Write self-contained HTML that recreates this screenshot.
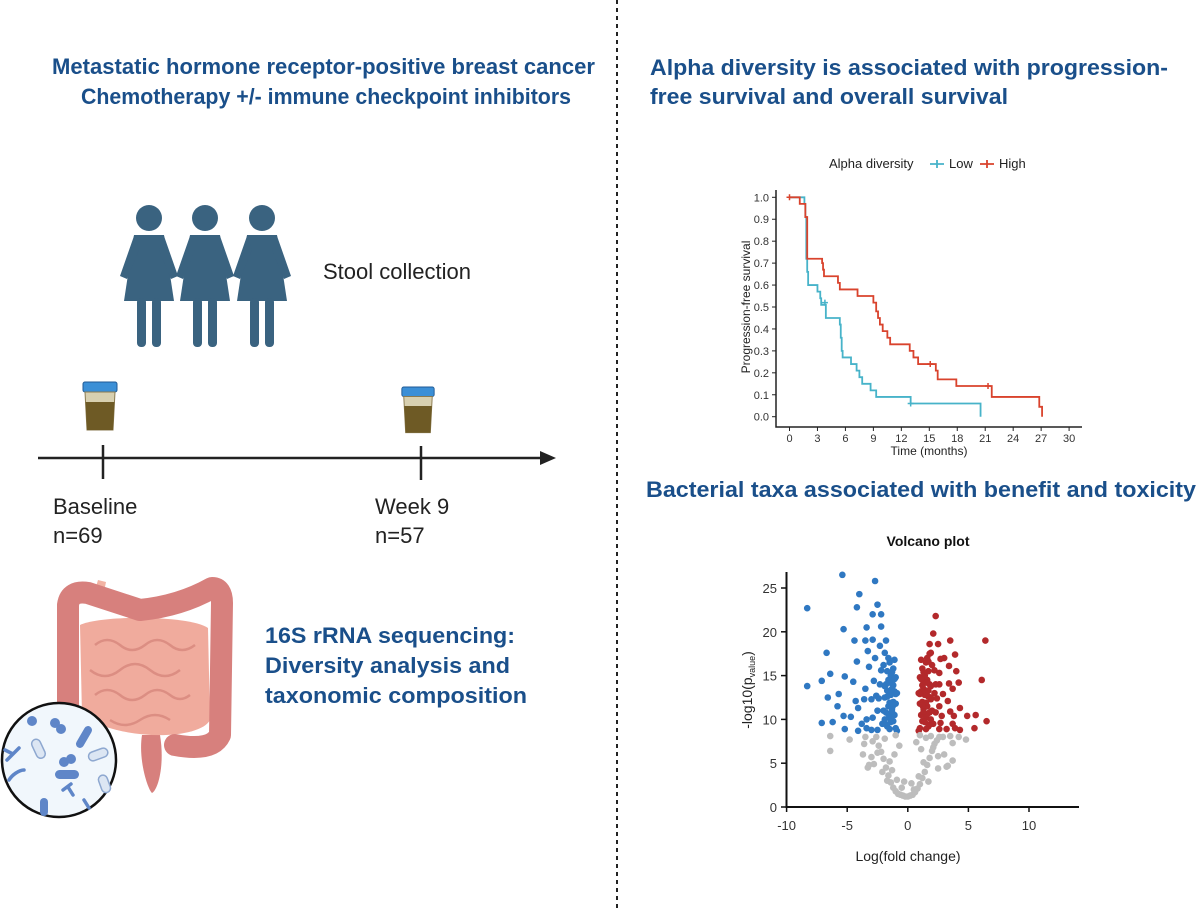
<!DOCTYPE html>
<html><head><meta charset="utf-8"><style>
body{margin:0;background:#fff;}
svg{display:block;font-family:"Liberation Sans",sans-serif;}
.t{fill:#1a4f8a;font-weight:bold;font-size:22px;}
</style></head><body>
<svg id="s" width="1200" height="909" viewBox="0 0 1200 909">
<line x1="617" y1="0" x2="617" y2="909" stroke="#222" stroke-width="2" stroke-dasharray="4,4"/>
<text class="t" x="52" y="74" textLength="543" lengthAdjust="spacingAndGlyphs">Metastatic hormone receptor-positive breast cancer</text>
<text class="t" x="81" y="104" textLength="490" lengthAdjust="spacingAndGlyphs">Chemotherapy +/- immune checkpoint inhibitors</text>
<text class="t" x="650" y="75" textLength="518" lengthAdjust="spacingAndGlyphs">Alpha diversity is associated with progression-</text>
<text class="t" x="650" y="104" textLength="358" lengthAdjust="spacingAndGlyphs">free survival and overall survival</text>
<text class="t" x="646" y="497" textLength="550" lengthAdjust="spacingAndGlyphs">Bacterial taxa associated with benefit and toxicity</text>

<g id="people" fill="#3a6380"></g>
<text x="323" y="279" font-size="22" fill="#222">Stool collection</text>

<g>
<line x1="38" y1="458" x2="545" y2="458" stroke="#222" stroke-width="2.5"/>
<polygon points="556,458 540,451 540,465" fill="#222"/>
<line x1="103" y1="445" x2="103" y2="479" stroke="#222" stroke-width="2.5"/>
<line x1="421" y1="446" x2="421" y2="480" stroke="#222" stroke-width="2.5"/>
</g>
<g id="cups"></g>
<text x="53" y="514" font-size="22" fill="#222">Baseline</text>
<text x="53" y="543" font-size="22" fill="#222">n=69</text>
<text x="375" y="514" font-size="22" fill="#222">Week 9</text>
<text x="375" y="543" font-size="22" fill="#222">n=57</text>

<g>
<path d="M92,600 L98,580 L106,582 L102,602" fill="#f2b3a3"/>
<path d="M142,735 C138,760 148,790 152,793 C158,790 165,765 160,735 Z" fill="#d7807d"/>
<path d="M80,625 C100,615 190,615 208,628 L210,720 C200,740 120,742 82,715 Z" fill="#f0ab9d"/>
<path d="M95,645 q12,-10 25,0 q12,10 25,0 q12,-10 25,0 q12,10 25,0 M90,670 q15,12 30,0 q15,-12 30,0 q15,12 30,0 M95,695 q12,-10 25,0 q12,10 25,0 q12,-10 25,0 q10,8 20,0 M110,720 q15,10 30,0 q15,-10 30,0" fill="none" stroke="#dc8e83" stroke-width="2.5"/>
<path d="M68,720 L68,605 Q70,590 88,593 L140,610 Q180,606 212,588 Q222,588 222,603 L220,735 Q212,752 175,745" fill="none" stroke="#d7807d" stroke-width="22" stroke-linecap="round" stroke-linejoin="round"/>
<circle cx="59" cy="760" r="57" fill="#f1f7fc" stroke="#111" stroke-width="2.5"/>
<g fill="#5f86c8">
<rect x="55" y="770" width="24" height="9" rx="4.5"/>
<rect x="80" y="725" width="8" height="24" rx="4" transform="rotate(30 84 737)"/>
<circle cx="55" cy="723" r="5"/><circle cx="61" cy="729" r="5"/>
<circle cx="64" cy="762" r="5"/><circle cx="71" cy="759" r="5"/>
<rect x="40" y="798" width="8" height="18" rx="4"/>
<circle cx="32" cy="721" r="5"/>
</g>
<g fill="#dce6f3" stroke="#8ea8d0" stroke-width="1.5">
<rect x="34" y="739" width="9" height="20" rx="4.5" transform="rotate(-25 38 749)"/>
<rect x="88" y="750" width="20" height="9" rx="4.5" transform="rotate(-20 98 754)"/>
<rect x="100" y="775" width="9" height="18" rx="4.5" transform="rotate(-20 104 784)"/>
</g>
<path d="M5,750 l8,4 l-6,6 M13,754 l6,-6 M63,790 l8,-6 M68,787 l5,8 M84,800 l5,8 M24,770 c-5,0 -12,5 -15,10" stroke="#5f86c8" stroke-width="3.5" fill="none" stroke-linecap="round"/>
</g>
<text class="t" x="265" y="643" textLength="250" lengthAdjust="spacingAndGlyphs">16S rRNA sequencing:</text>
<text class="t" x="265" y="673" textLength="245" lengthAdjust="spacingAndGlyphs">Diversity analysis and</text>
<text class="t" x="265" y="703" textLength="262" lengthAdjust="spacingAndGlyphs">taxonomic composition</text>

<g id="km"></g>
<g id="vol"></g>
</svg>
<script>
const NS="http://www.w3.org/2000/svg";
function mk(p,tag,a,txt){const e=document.createElementNS(NS,tag);for(const k in a)e.setAttribute(k,a[k]);if(txt!==undefined)e.textContent=txt;p.appendChild(e);return e;}
// people
const ppl=document.getElementById('people');
[149,205,262].forEach((cx,i)=>{
  const g=mk(ppl,'g',{});
  
  
  mk(g,'circle',{cx:cx,cy:218,r:13});
  mk(g,'path',{d:`M${cx-15},235 L${cx+15},235 L${cx+25},301 L${cx-25},301 Z`});
  mk(g,'rect',{x:cx-12,y:298,width:9,height:49,rx:4});
  mk(g,'rect',{x:cx+3,y:298,width:9,height:49,rx:4});
  mk(g,'path',{d:`M${cx-15},236 L${cx-29},276 L${cx-22},279 L${cx-10},250 Z M${cx+15},236 L${cx+29},276 L${cx+22},279 L${cx+10},250 Z`});
});
// cups
const cups=document.getElementById('cups');
[[100,382,1],[418,387,0.95]].forEach(([cx,top,s])=>{
  const g=mk(cups,'g',{transform:`translate(${cx},${top}) scale(${s})`});
  
  
  mk(g,'rect',{x:-17,y:0,width:34,height:10,rx:2,fill:'#3b8fd6',stroke:'#1f5a96'});
  mk(g,'path',{d:'M-15,10 L15,10 L13,48 L-13,48 Z',fill:'#d8d0b0',stroke:'#8a7a50'});
  mk(g,'path',{d:'M-14.5,20 L14.5,20 L13,48 L-13,48 Z',fill:'#6e5a25'});
});

// ===== KM chart data =====
const lowTimes=[0,1.6,1.7,1.8,1.9,2.0,3.0,3.3,3.4,3.9,5.4,5.5,5.5,5.6,5.6,5.7,6.6,7.2,7.5,7.8,8.7,9.3,13.0,20.5];
const lowSurv=[1.0,0.97,0.91,0.72,0.66,0.60,0.57,0.54,0.51,0.45,0.42,0.39,0.36,0.33,0.30,0.27,0.24,0.21,0.18,0.15,0.12,0.09,0.06,0.0];
const lowCensorT=[3.8,13.0];
const lowCensorS=[0.52,0.06];
const highTimes=[0,1.1,1.7,1.9,3.5,3.6,3.7,5.2,5.4,7.3,9.0,9.3,9.5,9.7,10.0,10.5,10.8,12.9,13.3,13.8,15.7,15.9,17.9,21.7,26.8,27.1];
const highSurv=[1.0,0.97,0.91,0.72,0.70,0.67,0.64,0.61,0.58,0.55,0.52,0.48,0.45,0.42,0.39,0.36,0.33,0.30,0.27,0.24,0.21,0.17,0.14,0.09,0.045,0.0];
const highCensorT=[0,15.1,21.3];
const highCensorS=[1.0,0.24,0.14];
const kmXTicks=[0,3,6,9,12,15,18,21,24,27,30];
const kmYTicks=[0,0.1,0.2,0.3,0.4,0.5,0.6,0.7,0.8,0.9,1.0];
const kx=t=>789.5+t*9.32, ky=s=>416.7-s*219.4;
const km=document.getElementById('km');
mk(km,'path',{d:'M776,190 L776,427 L1082,427',fill:'none',stroke:'#222','stroke-width':1.5});
kmXTicks.forEach(t=>{mk(km,'line',{x1:kx(t),x2:kx(t),y1:427,y2:431,stroke:'#222'});
  const e=mk(km,'text',{x:kx(t),y:442,'font-size':11,'text-anchor':'middle',fill:'#333'},t);
  });
kmYTicks.forEach(s=>{mk(km,'line',{x1:772,x2:776,y1:ky(s),y2:ky(s),stroke:'#222'});
  const e=mk(km,'text',{x:769,y:ky(s)+4,'font-size':11,'text-anchor':'end',fill:'#333'},s.toFixed(1));
  });
let e=mk(km,'text',{x:929,y:455,'font-size':12,'text-anchor':'middle',fill:'#222'},'Time (months)');

e=mk(km,'text',{x:750,y:307,'font-size':12,'text-anchor':'middle',fill:'#222',transform:'rotate(-90 750 307)'},'Progression-free survival');

function step(T,S){let d=`M${kx(T[0])},${ky(S[0])}`;for(let i=1;i<T.length;i++){d+=` H${kx(T[i])} V${ky(S[i])}`;}return d;}
e=mk(km,'path',{d:step(lowTimes,lowSurv),fill:'none',stroke:'#47b3c9','stroke-width':1.8});

e=mk(km,'path',{d:step(highTimes,highSurv),fill:'none',stroke:'#d9432d','stroke-width':1.8});

function cens(T,S,c){T.forEach((t,i)=>{const m=mk(km,'path',{d:`M${kx(t)-3},${ky(S[i])} h6 M${kx(t)},${ky(S[i])-3} v6`,stroke:c,'stroke-width':1.5});
  });}
cens(lowCensorT,lowCensorS,'#47b3c9');cens(highCensorT,highCensorS,'#d9432d');
const lg=mk(km,'g',{});

mk(lg,'text',{x:829,y:168,'font-size':13,fill:'#222'},'Alpha diversity');
mk(lg,'path',{d:'M930,164 h14 M937,160 v8',stroke:'#47b3c9','stroke-width':1.8});
mk(lg,'text',{x:949,y:168,'font-size':13,fill:'#222'},'Low');
mk(lg,'path',{d:'M980,164 h14 M987,160 v8',stroke:'#d9432d','stroke-width':1.8});
mk(lg,'text',{x:999,y:168,'font-size':13,fill:'#222'},'High');

// ===== Volcano data =====
const volX=[-8.3,-8.3,-5.4,-2.7,-4.0,-2.5,-4.2,-2.9,-2.2,-5.3,-3.4,-2.2,-4.4,-3.5,-2.9,-1.8,-6.7,-3.3,-4.2,-6.4,-5.2,-7.1,-4.5,-2.8,-6.6,-5.7,-3.5,-5.8,-4.3,-3.0,-4.1,-7.1,-6.2,-5.3,-4.7,-3.4,-2.9,-5.2,-4.1,-3.4,-3.0,-2.5,-3.2,-2.7,-2.3,-3.8,-2.6,-2.5,-3.6,
-1.0,-1.1,-1.2,-1.3,-1.4,-1.5,-1.6,-1.7,-1.8,-1.9,-2.0,-2.1,-1.0,-1.1,-1.2,-1.3,-1.4,-1.5,-1.6,-1.7,-1.8,-1.9,-2.0,-1.0,-1.2,-1.4,-1.6,-1.8,-1.1,-1.3,-1.5,-1.7,-1.9,-1.0,-1.2,-1.4,-1.6,-1.3,-1.5,-1.2,-2.2,-2.4,-1.9,-2.3,-1.7,-1.5,-1.1,-1.3,-0.9,-0.9,
2.3,2.1,1.8,2.5,3.5,6.4,1.8,3.0,2.7,3.9,1.7,3.4,2.6,4.0,6.1,2.6,3.4,4.2,3.7,2.9,3.3,2.6,4.3,3.5,2.8,3.8,4.9,5.6,6.5,2.7,3.7,3.2,3.9,4.3,5.5,2.6,2.2,1.9,2.3,
1.0,1.1,1.2,1.3,1.4,1.5,1.6,1.7,1.8,1.9,2.0,2.1,1.0,1.1,1.2,1.3,1.4,1.5,1.6,1.7,1.8,1.9,2.0,1.0,1.2,1.4,1.6,1.8,1.1,1.3,1.5,1.7,1.9,1.0,1.2,1.4,1.6,1.3,1.5,1.2,2.2,2.4,1.9,2.3,1.7,1.5,1.1,1.3,0.9,0.9,
-6.4,-6.4,-4.8,-3.7,-3.6,4.8,3.7,3.7,3.0,2.5,3.3,-3.0,-2.8,-3.3,-2.6,-2.4,-2.2,-2.0,-1.8,-1.6,-1.4,-1.2,-1.0,-0.8,-0.6,-0.4,-0.2,0.0,0.2,0.4,0.6,0.8,1.0,1.2,1.4,1.6,1.8,2.0,2.2,2.4,2.6,-2.5,-2.1,-1.7,-1.3,-0.9,-0.5,0.5,0.9,1.3,1.7,2.1,2.5,-1.9,-1.5,-1.1,-0.7,0.7,1.1,1.5,1.9,-2.9,2.9,-3.2,3.2,-1.0,1.0,-0.3,0.3,-3.5,3.5,4.2];
const volY=[22.7,13.8,26.5,25.8,24.3,23.1,22.8,22.0,22.0,20.3,20.5,20.6,19.0,19.0,19.1,19.0,17.6,17.8,16.6,15.2,14.9,14.4,14.3,14.4,12.5,12.9,13.5,11.5,12.1,12.3,11.3,9.6,9.7,10.4,10.3,10.0,10.2,8.9,8.7,9.0,8.8,8.8,16.0,17.0,18.4,9.5,12.7,11.0,12.3,
9.0,10.5,12.0,13.5,15.0,16.5,17.0,15.5,14.0,12.5,11.0,9.5,11.8,13.2,9.8,11.2,12.8,10.2,14.5,9.2,10.8,13.8,16.2,14.8,15.8,13.0,11.5,9.4,16.8,14.3,11.9,12.6,10.0,12.9,13.9,9.7,10.6,15.4,8.9,11.6,15.6,12.4,17.6,14.0,13.3,14.2,14.6,10.9,8.7,13.0,
21.8,19.8,18.6,18.6,19.0,19.0,17.5,17.0,16.9,17.4,16.6,16.1,15.3,15.5,14.5,14.0,14.1,14.2,13.5,12.9,12.1,11.5,11.3,10.9,10.4,10.4,10.4,10.5,9.8,9.6,9.5,8.9,9.0,8.8,9.0,8.9,13.0,12.3,10.8,
9.0,10.5,12.0,13.5,15.0,16.5,17.0,15.5,14.0,12.5,11.0,9.5,11.8,13.2,9.8,11.2,12.8,10.2,14.5,9.2,10.8,13.8,16.2,14.8,15.8,13.0,11.5,9.4,16.8,14.3,11.9,12.6,10.0,12.9,13.9,9.7,10.6,15.4,8.9,11.6,15.6,12.4,17.6,14.0,13.3,14.2,14.6,10.9,8.7,13.0,
8.1,6.4,7.7,6.0,7.2,7.7,7.3,5.3,6.0,5.8,4.7,5.7,4.9,4.5,8.0,7.0,6.3,5.5,4.5,3.6,2.8,2.2,1.8,1.5,1.4,1.3,1.2,1.2,1.3,1.4,1.7,2.1,2.6,3.3,4.0,4.8,5.6,6.4,7.2,7.6,8.0,6.2,4.0,3.0,4.2,3.1,2.2,2.0,3.5,5.1,2.9,6.8,4.4,7.8,5.2,6.0,7.0,7.4,6.6,7.9,8.1,7.5,8.0,4.8,4.6,8.2,8.2,2.9,2.7,8.0,8.1,8.0];
const volXTicks=[-10,-5,0,5,10];
const volYTicks=[0,5,10,15,20,25];
const vx=x=>907.8+x*12.12, vy=y=>807-y*8.76;
const vol=document.getElementById('vol');
e=mk(vol,'text',{x:928,y:546,'font-size':14,'font-weight':'bold','text-anchor':'middle',fill:'#111'},'Volcano plot');

mk(vol,'path',{d:'M786.5,572 L786.5,807 L1079,807',fill:'none',stroke:'#111','stroke-width':2});
volXTicks.forEach(t=>{mk(vol,'line',{x1:vx(t),x2:vx(t),y1:807,y2:812,stroke:'#111','stroke-width':1.5});
  const m=mk(vol,'text',{x:vx(t),y:830,'font-size':13,'text-anchor':'middle',fill:'#333'},t);
  });
volYTicks.forEach(t=>{mk(vol,'line',{x1:781,x2:786,y1:vy(t),y2:vy(t),stroke:'#111','stroke-width':1.5});
  const m=mk(vol,'text',{x:777,y:vy(t)+5,'font-size':13,'text-anchor':'end',fill:'#333'},t);
  });
e=mk(vol,'text',{x:908,y:861,'font-size':14,'text-anchor':'middle',fill:'#222'},'Log(fold change)');

e=mk(vol,'text',{x:752,y:690,'font-size':14,'text-anchor':'middle',fill:'#222',transform:'rotate(-90 752 690)'});

e.innerHTML='-log10(p<tspan font-size="9" dy="3">value</tspan><tspan dy="-3">)</tspan>';
volX.forEach((x,i)=>{const y=volY[i];
  const c=y>8.4&&x<=-0.8?'#2f78c2':(y>8.4&&x>=0.8?'#b3292b':'#bdbdbd');
  const p=mk(vol,'circle',{cx:vx(x),cy:vy(y),r:3.3,fill:c});
  
  });
</script>
</body></html>
